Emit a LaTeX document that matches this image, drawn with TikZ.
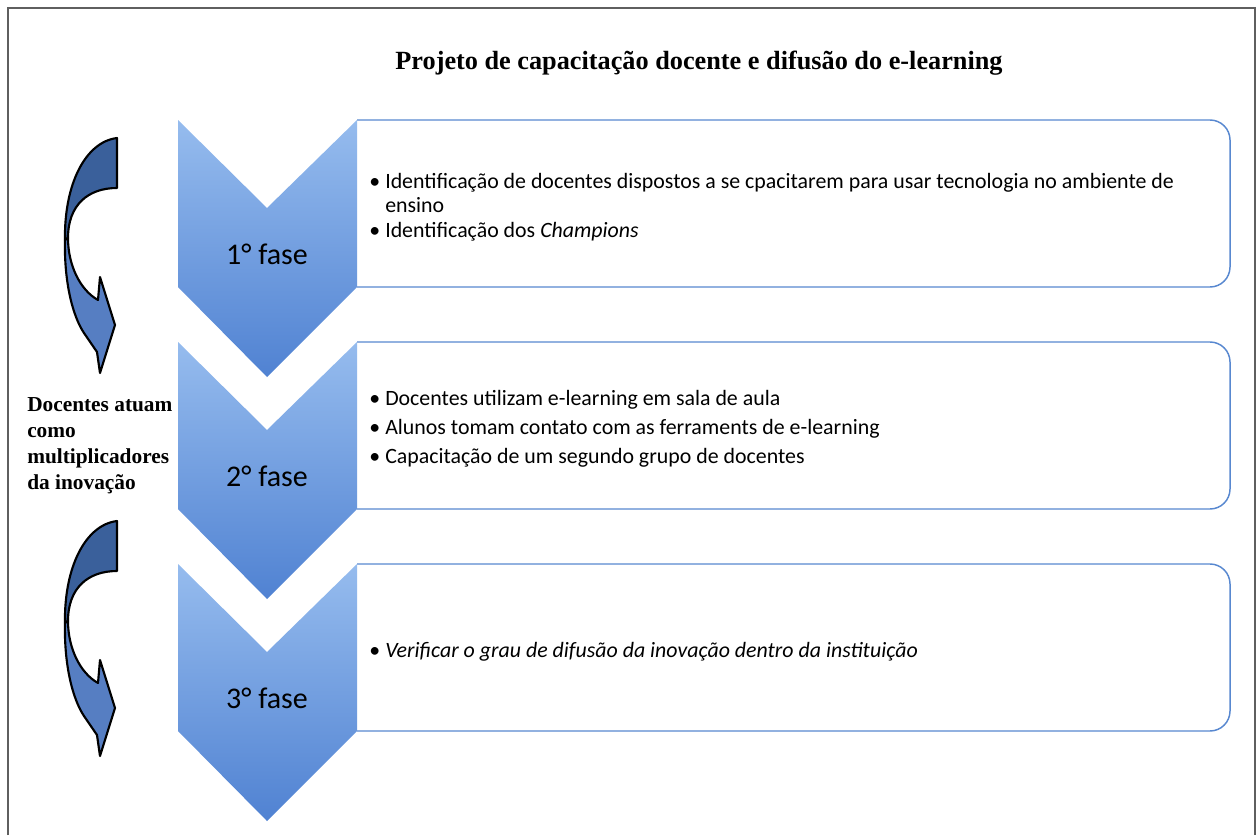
\documentclass[tikz,border=0pt]{standalone}
\usepackage{fontspec}
\setmainfont{Carlito}
\newfontfamily\serifbold{Liberation Serif}
\usepackage{tikz}

\definecolor{chevtop}{RGB}{150,188,238}
\definecolor{chevbot}{RGB}{80,130,210}
\definecolor{caixaborda}{RGB}{88,136,208}
\definecolor{setaescura}{RGB}{58,96,155}
\definecolor{setaclara}{RGB}{86,126,194}
\definecolor{moldura}{RGB}{95,95,95}

\newcommand{\marca}{\makebox[12pt][l]{\textbullet}}

\begin{document}
\begin{tikzpicture}[x=0.75pt,y=0.75pt]
\tikzstyle{every node}+=[inner sep=0pt]
\tikzstyle{fase}=[font=\fontsize{22.5}{26}\selectfont]
\tikzstyle{itens}=[font=\fontsize{16.4}{18.4}\selectfont, align=left, anchor=west]
\tikzstyle{caixa}=[draw=caixaborda, line width=1.1pt, fill=white, rounded corners=15]
\tikzstyle{chevron}=[top color=chevtop, bottom color=chevbot]
\tikzstyle{seta}=[draw=black, line width=1.6pt, line join=round]
\useasboundingbox (0,0) rectangle (1256,-835);
% moldura
\draw [moldura, line width=1.5pt] (8,-835) -- (8,-8) -- (1255,-8) -- (1255,-835);
\node [font=\serifbold\bfseries\fontsize{19.7}{22}\selectfont] (titulo) at (699,-63) {Projeto de capacitação docente e difusão do e-learning};
% caixas e chevrons
\foreach \i/\t in {1/120, 2/342, 3/564} {
  \draw [caixa] (357,-\t) -- (1230,-\t) -- (1230,-\t-167) -- (357,-\t-167);
  \shade [chevron] (178,-\t) -- (267,-\t-88) -- (357,-\t) -- (357,-\t-167) -- (267,-\t-257) -- (178,-\t-167) -- cycle;
  \node [fase] (fase\i) at (267,-\t-134) {\i° fase};
}
\node [itens] (itens1) at (369,-207) {\marca Identificação de docentes dispostos a se cpacitarem para usar tecnologia no ambiente de\\\hspace*{12pt}ensino\\\marca Identificação dos \textit{Champions}};
\node [itens, font=\fontsize{16.4}{21.75}\selectfont] (itens2) at (369,-429) {\marca Docentes utilizam e-learning em sala de aula\\\marca Alunos tomam contato com as ferraments de e-learning\\\marca Capacitação de um segundo grupo de docentes};
\node [itens] (itens3) at (369,-652) {\marca\textit{Verificar o grau de difusão da inovação dentro da instituição}};
% texto lateral
\node [font=\serifbold\bfseries\fontsize{16}{19.5}\selectfont, align=left, anchor=west] (docentes) at (27,-446) {Docentes atuam\\como\\multiplicadores\\da inovação};
% setas curvas
\foreach \d in {0,383} {
  \begin{scope}[shift={(0,-\d)}]
  \filldraw [seta, fill=setaescura] (117,-138) .. controls (85,-142) and (64,-185) .. (65,-240)
    -- (68,-238) .. controls (68,-205) and (88,-188) .. (117,-188) -- cycle;
  \filldraw [seta, fill=setaclara] (65,-240) .. controls (64,-280) and (72,-315) .. (84,-333)
    -- (97,-352) -- (100,-373) -- (115,-325) -- (100,-277) -- (98,-300)
    .. controls (80,-290) and (68,-265) .. (68,-238) -- cycle;
  \end{scope}
}
\end{tikzpicture}
\end{document}
